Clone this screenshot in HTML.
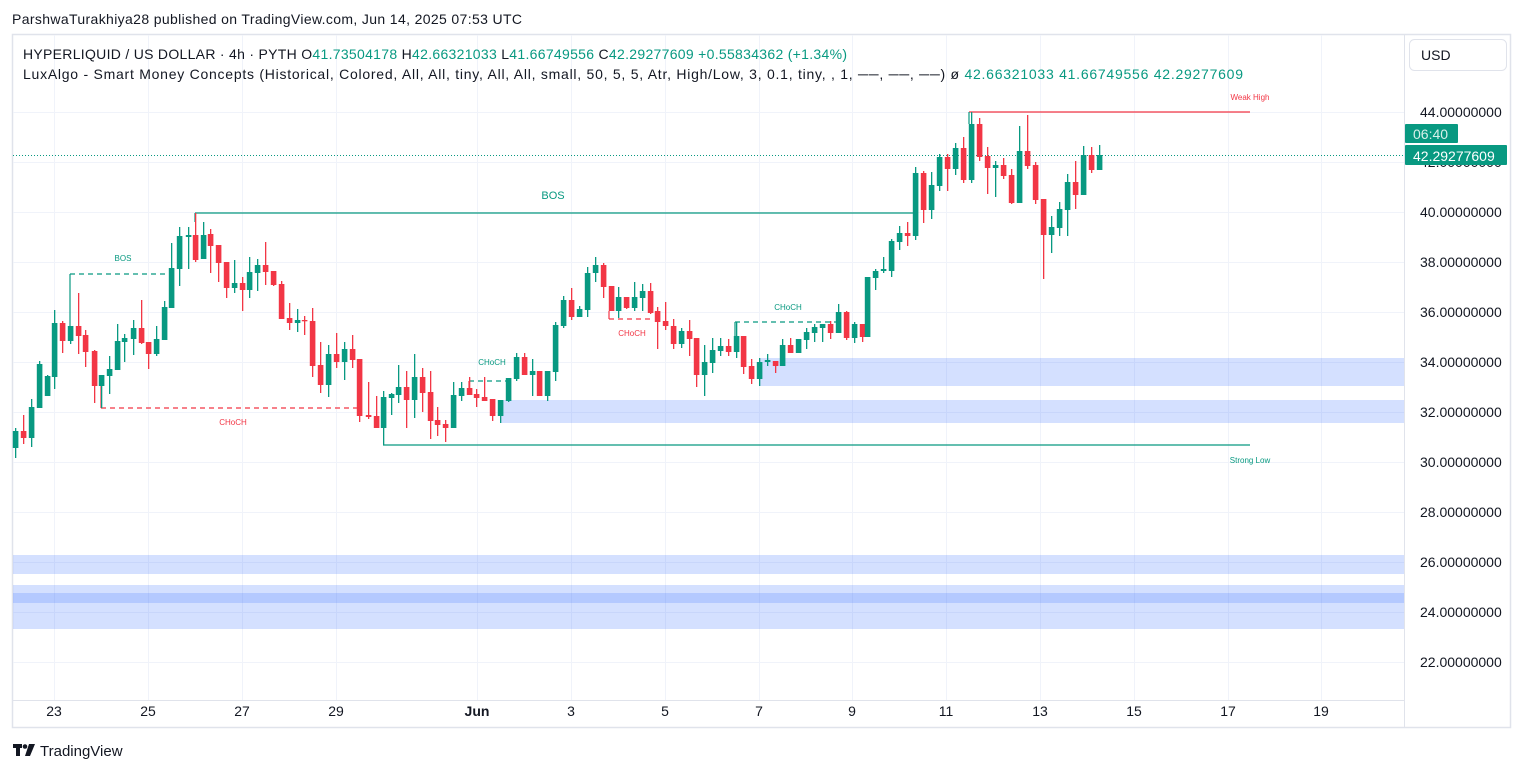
<!DOCTYPE html>
<html><head><meta charset="utf-8"><style>
body{margin:0;background:#fff;width:1524px;height:772px;overflow:hidden;font-family:"Liberation Sans",sans-serif;}
svg text{font-family:"Liberation Sans",sans-serif;}
</style></head><body>
<svg id="s" width="1524" height="772" xmlns="http://www.w3.org/2000/svg">
<rect x="0" y="0" width="1524" height="772" fill="#fff"/>
<text x="12" y="24" font-size="14" fill="#131722" textLength="510" lengthAdjust="spacing">ParshwaTurakhiya28 published on TradingView.com, Jun 14, 2025 07:53 UTC</text>
<rect x="12.5" y="34.5" width="1498" height="693" fill="none" stroke="#e0e3eb" stroke-width="1.5"/>
<line x1="1404.5" y1="35" x2="1404.5" y2="727" stroke="#e0e3eb"/>
<line x1="12" y1="700.5" x2="1404" y2="700.5" stroke="#e0e3eb"/>
<g id="grid" stroke="#f0f3fa" stroke-width="1"></g>
<g id="zones"></g>
<g id="lines"></g>
<g id="candles"></g>
<g id="labels"></g>
<text x="23" y="59" font-size="14" fill="#131722" textLength="824" lengthAdjust="spacing">HYPERLIQUID / US DOLLAR · 4h · PYTH  O<tspan fill="#089981">41.73504178</tspan>  H<tspan fill="#089981">42.66321033</tspan>  L<tspan fill="#089981">41.66749556</tspan>  C<tspan fill="#089981">42.29277609</tspan>  <tspan fill="#089981">+0.55834362 (+1.34%)</tspan></text>
<text x="23" y="79" font-size="14" fill="#131722" textLength="1220" lengthAdjust="spacing">LuxAlgo - Smart Money Concepts (Historical, Colored, All, All, tiny, All, All, small, 50, 5, 5, Atr, High/Low, 3, 0.1, tiny, , 1, ──, ──, ──)  ø  <tspan fill="#089981">42.66321033  41.66749556  42.29277609</tspan></text>
<rect x="1409.5" y="39.5" width="97" height="31" rx="5" fill="#fff" stroke="#e0e3eb"/>
<text x="1421" y="60" font-size="14" fill="#131722">USD</text>
<g id="axis" font-size="14" fill="#131722"></g>
<rect x="1405" y="124" width="53" height="19" rx="1" fill="#089981"/>
<text x="1413" y="139" font-size="14" fill="#d8f0ea">06:40</text>
<rect x="1405" y="145" width="102" height="20" rx="1" fill="#089981"/>
<text x="1413" y="161" font-size="14" fill="#fff">42.29277609</text>
<g fill="#131722"><rect x="13" y="744" width="9" height="4"/><rect x="16" y="744" width="4" height="12"/><circle cx="25" cy="746.5" r="2.3"/><path d="M29 744 L35 744 L30 756 L25 756 Z"/></g>
<text x="40" y="756" font-size="15" fill="#131722">TradingView</text>
</svg>
<script>
var NS="http://www.w3.org/2000/svg";
function el(p,t,a,txt){var e=document.createElementNS(NS,t);for(var k in a)e.setAttribute(k,a[k]);if(txt!==undefined)e.textContent=txt;document.getElementById(p).appendChild(e);return e;}
for(var p=44;p>=22;p-=2){var y=112+(44-p)*25;el("grid","line",{x1:13,x2:1404,y1:y+0.5,y2:y+0.5});
 if(p!==42) el("axis","text",{x:1420,y:y+5},p.toFixed(8));}
el("axis","text",{x:1420,y:167},"42.00000000");
var dates=[[54,"23"],[148,"25"],[242,"27"],[336,"29"],[477,"Jun"],[571,"3"],[665,"5"],[759,"7"],[852,"9"],[946,"11"],[1040,"13"],[1134,"15"],[1228,"17"],[1321,"19"]];
dates.forEach(function(d){el("grid","line",{x1:d[0]+0.5,x2:d[0]+0.5,y1:35,y2:700});
 var t=el("labels","text",{x:d[0],y:716,"font-size":14,fill:"#131722","text-anchor":"middle"},d[1]); if(d[1]=="Jun")t.setAttribute("font-weight","bold");});
var zc="rgba(41,98,255,0.2)";
el("zones","rect",{x:500,y:400,width:904,height:23,fill:zc});
el("zones","rect",{x:759,y:358,width:645,height:28,fill:zc});
el("zones","rect",{x:13,y:555,width:1391,height:19,fill:zc});
el("zones","rect",{x:13,y:585,width:1391,height:44,fill:zc});
el("zones","rect",{x:13,y:593,width:1391,height:10,fill:"rgba(41,98,255,0.18)"});
var G="#089981",R="#f23645";
function L(x1,y1,x2,y2,c,d){var a={x1:x1,y1:y1,x2:x2,y2:y2,stroke:c,"stroke-width":1.2};if(d)a["stroke-dasharray"]="5,4";el("lines","line",a);}
L(195,213,915,213,G);L(195,213,195,222,G);
L(70,274,171,274,G,1);L(70,274,70,326,G);
L(101,408,359,408,R,1);L(101,386,101,408,R);
L(383,445,1250,445,G);
L(969,112,1250,112,R);L(969,112,969,124,G);
L(469,381,512,381,G,1);L(469,381,469,395,R);
L(609,319,654,319,R,1);L(609,311,609,319,R);
L(735,322,838,322,G,1);L(735,322,735,336,G);
el("lines","line",{x1:13,y1:155.5,x2:1404,y2:155.5,stroke:G,"stroke-width":1,"stroke-dasharray":"1,2"});
function T(x,y,s,c,fs){el("labels","text",{x:x,y:y,"font-size":fs,fill:c,"text-anchor":"middle"},s);}
T(553,199,"BOS",G,11);T(123,261,"BOS",G,8);T(233,425,"CHoCH",R,8);T(492,365,"CHoCH",G,8);T(632,336,"CHoCH",R,8);T(788,310,"CHoCH",G,8);
T(1250,100,"Weak High",R,8);T(1250,463,"Strong Low",G,8);
var C=[
[15,'g',431,448,428,458],[23,'r',431,438,415,444],[31,'g',407,438,399,447],[39,'g',364,408,361,408],[47,'g',376,396,375,396],[54,'g',323,377,310,389],[62,'r',323,341,321,353],[70,'g',326,341,326,344],[78,'r',326,336,293,354],[85,'r',335,352,330,367],[94,'r',351,386,350,403],[101,'g',375,386,375,408],[109,'g',369,376,356,394],[117,'g',341,370,324,370],[124,'g',338,342,334,362],[133,'g',328,339,320,355],[141,'r',328,343,300,344],[148,'r',342,354,342,369],[156,'g',339,354,326,356],[164,'g',307,340,301,340],[171,'g',268,308,243,308],[179,'g',236,269,227,286],[188,'g',235,237,227,269],[195,'r',235,260,213,262],[203,'g',235,259,222,259],[210,'r',234,246,229,273],[218,'r',245,263,245,282],[226,'r',262,288,262,298],[234,'g',283,288,260,293],[242,'r',283,290,277,311],[249,'g',272,290,257,298],[257,'g',265,273,259,291],[265,'r',265,272,242,285],[273,'r',271,285,271,286],[281,'r',284,319,281,319],[289,'r',318,323,303,330],[297,'g',320,323,309,332],[304,'r',320,321,316,335],[312,'r',321,366,308,377],[320,'r',365,385,342,393],[328,'g',354,385,345,397],[336,'r',354,362,333,368],[344,'g',349,362,342,380],[352,'r',349,360,335,368],[359,'r',359,416,359,422],[368,'r',415,417,382,419],[376,'r',416,428,396,428],[383,'g',397,428,391,445],[391,'g',394,398,393,415],[398,'g',387,395,365,403],[406,'r',387,400,371,428],[414,'g',377,400,354,418],[422,'r',377,393,368,412],[430,'r',392,421,371,439],[437,'r',420,425,407,436],[445,'r',424,428,420,442],[453,'g',395,428,382,428],[461,'g',388,396,382,401],[469,'r',388,395,377,395],[476,'r',394,398,389,407],[484,'r',397,401,377,401],[492,'r',399,416,399,421],[500,'g',400,416,400,423],[508,'g',378,401,378,402],[516,'g',357,379,353,381],[524,'r',357,375,353,375],[532,'g',371,375,359,396],[539,'r',371,396,371,396],[547,'g',371,396,371,401],[555,'g',325,372,322,381],[563,'g',300,326,296,328],[571,'r',300,317,288,320],[579,'g',309,317,306,317],[587,'g',273,310,267,317],[595,'g',265,273,257,282],[603,'r',265,287,263,298],[611,'r',286,311,286,311],[618,'g',297,311,287,318],[626,'r',297,308,297,309],[634,'g',297,308,282,311],[642,'g',291,298,284,311],[650,'r',291,313,283,314],[657,'r',311,322,307,349],[665,'r',321,326,302,330],[673,'r',326,344,319,349],[681,'g',331,344,328,348],[689,'r',331,339,320,356],[696,'r',338,375,338,387],[704,'g',362,375,345,396],[712,'g',350,363,338,373],[720,'g',346,351,338,356],[728,'r',346,352,339,356],[736,'g',336,352,322,358],[743,'r',336,367,336,374],[751,'r',366,379,359,384],[759,'g',362,379,358,386],[767,'g',360,362,354,366],[775,'r',361,366,361,373],[782,'g',345,366,339,366],[790,'r',345,353,338,353],[798,'g',339,353,339,353],[806,'g',332,340,328,349],[814,'g',327,333,324,342],[822,'g',324,328,324,342],[830,'r',324,333,321,339],[838,'g',312,333,304,333],[846,'r',312,338,311,340],[854,'g',324,338,322,343],[862,'r',324,337,324,342],[867,'g',277,337,277,337],[875,'g',271,278,269,290],[883,'g',269,271,257,273],[891,'g',241,271,239,277],[899,'g',233,242,226,250],[907,'r',233,236,222,246],[915,'g',173,236,167,240],[923,'r',173,210,171,223],[931,'g',185,210,172,219],[939,'g',157,186,154,191],[947,'r',157,169,154,191],[955,'g',148,169,143,175],[963,'r',148,180,137,183],[971,'g',124,180,112,183],[979,'r',124,157,118,161],[987,'r',156,168,147,194],[995,'g',165,168,161,197],[1003,'r',165,176,158,179],[1011,'r',175,203,169,204],[1019,'g',151,203,126,203],[1027,'r',151,166,115,169],[1035,'r',165,200,162,204],[1043,'r',199,235,199,279],[1051,'g',227,235,216,253],[1059,'g',209,228,202,236],[1067,'g',182,210,174,236],[1075,'r',182,195,161,209],[1083,'g',155,195,146,195],[1091,'r',155,170,147,173],[1099,'g',155,170,145,170]];
C.forEach(function(c){var col=c[1]=='g'?G:R;
 el("candles","rect",{x:c[0],y:c[4],width:1.3,height:Math.max(1,c[5]-c[4]),fill:col});
 el("candles","rect",{x:c[0]-2.2,y:c[2],width:5.6,height:Math.max(1.3,c[3]-c[2]),fill:col});});
</script>
</body></html>
